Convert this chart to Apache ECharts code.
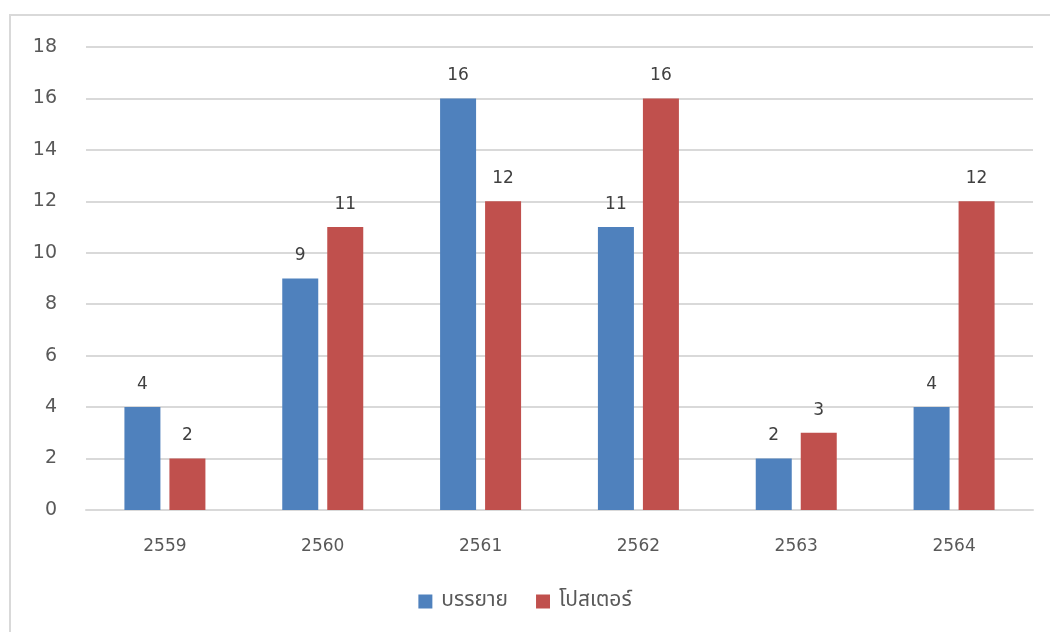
<!DOCTYPE html>
<html>
<head>
<meta charset="utf-8">
<script src="https://cdn.jsdelivr.net/npm/echarts@6/dist/echarts.min.js"></script>
<style>
  html, body { margin: 0; padding: 0; background: #fff; }
  #frame { position: absolute; left: 9px; top: 14px; width: 1060px; height: 640px;
           border: 2px solid #d9d9d9; box-sizing: border-box; }
  #main { position: absolute; left: 0; top: 0; width: 1050px; height: 632px; }
</style>
</head>
<body>
<div id="frame"></div>
<div id="main"></div>
<script>
  // ข้อมูลกราฟ
  var years = ['2559', '2560', '2561', '2562', '2563', '2564'];
  var lectureValues = [4, 9, 16, 11, 2, 4];
  var posterValues = [2, 11, 12, 16, 3, 12];
  var seriesNames = ['บรรยาย', 'โปสเตอร์'];

  var FONT = '"DejaVu Sans", "Noto Sans", sans-serif';
  var THAI_FONT = '"Noto Sans Thai", "Noto Sans", "DejaVu Sans", sans-serif';

  var chart = echarts.init(document.getElementById('main'));
  chart.setOption({
    animation: false,
    textStyle: { fontFamily: FONT },
    grid: { left: 86, right: 17, top: 47, bottom: 122, containLabel: false },
    legend: {
      data: seriesNames,
      bottom: 15,
      left: 'center',
      itemWidth: 14,
      itemHeight: 14,
      itemGap: 28,
      icon: 'rect',
      textStyle: { fontSize: 21, color: '#595959', fontFamily: THAI_FONT, padding: [0, 0, 0, 4] }
    },
    xAxis: {
      type: 'category',
      data: years,
      axisLine: { lineStyle: { color: '#d9d9d9', width: 2 } },
      axisTick: { show: false },
      axisLabel: { color: '#595959', fontSize: 17, margin: 28 }
    },
    yAxis: {
      type: 'value',
      min: 0,
      max: 18,
      interval: 2,
      axisLine: { show: false },
      axisTick: { show: false },
      splitLine: { lineStyle: { color: '#d9d9d9', width: 2 } },
      axisLabel: { color: '#595959', fontSize: 19, margin: 29 }
    },
    series: [
      {
        name: seriesNames[0],
        type: 'bar',
        data: lectureValues,
        barWidth: 36,
        barGap: '25%',
        itemStyle: { color: '#4f81bd' },
        label: { show: true, position: 'top', distance: 14, color: '#404040', fontSize: 17 }
      },
      {
        name: seriesNames[1],
        type: 'bar',
        data: posterValues,
        barWidth: 36,
        barGap: '25%',
        itemStyle: { color: '#c0504d' },
        label: { show: true, position: 'top', distance: 14, color: '#404040', fontSize: 17 }
      }
    ]
  });
</script>
</body>
</html>
